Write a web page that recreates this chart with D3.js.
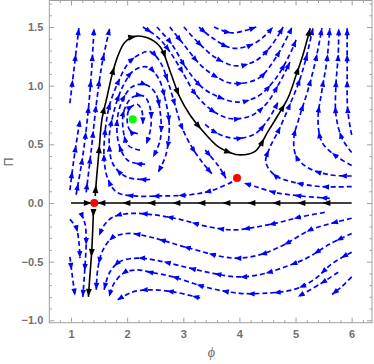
<!DOCTYPE html>
<meta charset="utf-8">
<style>
  body { margin: 0; background: #fff; }
  svg { display: block; }
  .tick text { font-family: "Liberation Sans", Arial, sans-serif; font-size: 11px; font-weight: bold; fill: #707070; }
  .tick line { stroke: #a0a0a0; }
</style>
<body>
<script src="https://d3js.org/d3.v7.min.js"></script>
<script>
  // ticks
  var xTicks = [1, 2, 3, 4, 5, 6];
  var xMinor = [0.8, 1.2, 1.4, 1.6, 1.8, 2.2, 2.4, 2.6, 2.8, 3.2, 3.4, 3.6, 3.8, 4.2, 4.4, 4.6, 4.8, 5.2, 5.4, 5.6, 5.8, 6.2];
  var yTicks = [-1.0, -0.5, 0.0, 0.5, 1.0, 1.5];
  var yMinor = [-0.9, -0.8, -0.7, -0.6, -0.4, -0.3, -0.2, -0.1, 0.1, 0.2, 0.3, 0.4, 0.6, 0.7, 0.8, 0.9,
                1.1, 1.2, 1.3, 1.4, 1.6, 1.7];

  // fixed points
  var saddles = [[1.414, 0], [3.957, 0.213]];
  var centers = [[2.099, 0.714]];

  // separatrices (black)
  var blackLines = [
    [[1.43,0.06],[1.46,0.24],[1.50,0.45],[1.55,0.71],[1.64,0.90],[1.73,1.09],[1.84,1.26],[1.96,1.37],[2.14,1.42],
     [2.35,1.41],[2.59,1.33],[2.76,1.13],[2.94,0.90],[3.12,0.75],[3.30,0.64],[3.62,0.48],[3.83,0.43],[4.01,0.41],
     [4.28,0.44],[4.51,0.61],[4.69,0.75],[4.87,0.90],[5.01,1.09],[5.13,1.26],[5.26,1.49]],
    [[1.40,-0.06],[1.37,-0.40],[1.33,-0.66],[1.31,-0.80]]
  ];
  var blackAxis = [
    [[6.0,0],[1.47,0]],
    [[1.0,0],[1.37,0]]
  ];

  // left column, flowing up
  var leftLines = [
    [[0.98,0.85],[1.05,1.13],[1.14,1.49]],
    [[0.98,0.11],[1.05,0.37],[1.16,0.71]],
    [[1.09,0.07],[1.20,0.37],[1.29,0.71],[1.36,1.09],[1.41,1.49]],
    [[1.27,0.09],[1.36,0.45],[1.45,0.84],[1.55,1.18],[1.69,1.49]]
  ];

  // around the centre and near the second saddle
  var orbitLines = [
    [[2.19,0.59],[2.05,0.62],[2.00,0.71],[2.05,0.81],[2.18,0.84],[2.26,0.79],[2.28,0.67]],
    [[2.23,0.45],[2.02,0.49],[1.93,0.62],[1.94,0.78],[2.09,0.90],[2.30,0.91],[2.41,0.81],[2.42,0.64],[2.34,0.50]],
    [[2.32,0.33],[2.02,0.36],[1.86,0.49],[1.82,0.69],[1.91,0.87],[2.09,0.99],[2.32,1.01],[2.50,0.94],[2.59,0.77],[2.59,0.54],[2.46,0.39]],
    [[2.41,0.20],[2.00,0.22],[1.75,0.33],[1.68,0.54],[1.77,0.79],[1.93,1.00],[2.12,1.13],[2.35,1.16],[2.55,1.07],[2.67,0.90],[2.75,0.66],[2.69,0.41],[2.55,0.26]],
    [[3.87,0.18],[3.53,0.11],[3.12,0.07],[2.59,0.06],[2.14,0.06],[1.82,0.09],[1.66,0.20],[1.59,0.37],[1.61,0.62],[1.69,0.84],
     [1.84,1.03],[2.02,1.19],[2.23,1.27],[2.41,1.29],[2.59,1.20],[2.73,1.03],[2.85,0.84],[2.98,0.64],[3.16,0.47],[3.35,0.34],[3.51,0.25]],
    [[3.39,0.45],[3.62,0.32],[3.76,0.21]],
    [[5.61,0.04],[5.08,0.06],[4.63,0.09],[4.28,0.14],[4.08,0.17]]
  ];

  // upper middle, flowing right
  var upperLines = [
    [[3.55,1.50],[3.87,1.45],[4.30,1.50]],
    [[3.28,1.50],[3.51,1.41],[3.87,1.32],[4.22,1.35],[4.44,1.42],[4.60,1.50]],
    [[3.01,1.50],[3.26,1.37],[3.57,1.24],[3.92,1.17],[4.28,1.21],[4.55,1.33],[4.78,1.50]],
    [[2.76,1.50],[3.01,1.35],[3.30,1.18],[3.57,1.08],[3.87,1.02],[4.33,1.06],[4.65,1.24],[4.94,1.50]],
    [[2.53,1.50],[2.80,1.35],[3.05,1.15],[3.35,0.98],[3.65,0.90],[3.97,0.86],[4.33,0.91],[4.63,1.05],[4.87,1.24],[5.01,1.39]],
    [[2.28,1.50],[2.55,1.41],[2.76,1.29],[2.98,1.12],[3.23,0.92],[3.51,0.79],[3.83,0.72],[4.19,0.74],[4.47,0.84],[4.72,1.03],[4.90,1.20]],
    [[3.39,0.67],[3.62,0.59],[3.94,0.55],[4.28,0.59],[4.51,0.71],[4.69,0.86]]
  ];

  // right side, coming in from the right and turning up
  var rightLines = [
    [[6.0,0.14],[5.44,0.14],[4.94,0.18],[4.62,0.24],[4.47,0.35],[4.54,0.47],[4.70,0.62],[4.90,0.84],[5.06,1.03],[5.18,1.22],[5.31,1.49]],
    [[6.0,0.23],[5.61,0.24],[5.22,0.30],[5.01,0.40],[4.97,0.55],[5.08,0.75],[5.22,0.96],[5.36,1.22],[5.47,1.49]],
    [[6.0,0.32],[5.72,0.40],[5.47,0.52],[5.40,0.71],[5.47,0.96],[5.56,1.22],[5.61,1.49]],
    [[6.0,0.43],[5.83,0.55],[5.72,0.75],[5.72,1.01],[5.76,1.26],[5.77,1.49]],
    [[6.0,0.58],[5.93,0.79],[5.92,1.13],[5.92,1.49]]
  ];

  // lower half, flowing left then down
  var lowerLines = [
    [[5.52,-0.08],[5.08,-0.12],[4.67,-0.17],[4.24,-0.21],[3.89,-0.23],[3.42,-0.20],[2.94,-0.14],[2.46,-0.10],[2.05,-0.09],[1.75,-0.12],[1.59,-0.19],[1.50,-0.28]],
    [[6.0,-0.13],[5.67,-0.17],[5.26,-0.23],[4.78,-0.36],[4.37,-0.44],[3.89,-0.47],[3.07,-0.38],[2.41,-0.29],[2.00,-0.26],[1.73,-0.30],[1.57,-0.40],[1.48,-0.55],[1.45,-0.74]],
    [[6.0,-0.26],[5.61,-0.35],[5.20,-0.47],[4.78,-0.55],[4.37,-0.61],[3.96,-0.63],[3.53,-0.60],[3.07,-0.55],[2.53,-0.49],[2.18,-0.47],[1.87,-0.50],[1.69,-0.59],[1.59,-0.74]],
    [[6.0,-0.42],[5.67,-0.51],[5.31,-0.66],[4.95,-0.74],[4.42,-0.77],[4.01,-0.77],[3.42,-0.72],[2.82,-0.63],[2.41,-0.59],[2.18,-0.57],[1.93,-0.60],[1.75,-0.70],[1.68,-0.80]],
    [[3.30,-0.81],[2.85,-0.76],[2.41,-0.74],[2.09,-0.76],[1.82,-0.83]],
    [[5.76,-0.59],[5.44,-0.69],[5.04,-0.80]],
    [[6.0,-0.63],[5.83,-0.71],[5.65,-0.78]],
    [[0.98,-0.14],[1.09,-0.21],[1.14,-0.33],[1.16,-0.47]],
    [[0.98,-0.46],[1.02,-0.61],[1.07,-0.79]],
    [[1.18,-0.09],[1.25,-0.18],[1.27,-0.32],[1.25,-0.53],[1.21,-0.80]]
  ];

  var width = 374, height = 364;
  var x = d3.scaleLinear().domain([0.613, 6.362]).range([49.3, 372]);
  var y = d3.scaleLinear().domain([-1.0205, 1.726]).range([322.7, 0.5]);

  var svg = d3.select("body").append("svg")
      .attr("width", width)
      .attr("height", height);

  svg.append("defs").append("clipPath").attr("id", "plotclip")
    .append("rect")
      .attr("x", x.range()[0]).attr("y", y.range()[1])
      .attr("width", x.range()[1] - x.range()[0])
      .attr("height", y.range()[0] - y.range()[1]);

  var line = d3.line()
      .x(function(d) { return x(d[0]); })
      .y(function(d) { return y(d[1]); })
      .curve(d3.curveCatmullRom.alpha(0.5));

  var plot = svg.append("g").attr("clip-path", "url(#plotclip)");

  // one streamline: the curve plus arrowheads every `spacing` px, last one at the end
  function drawStream(g, pts, color, w, dash, spacing, len, half) {
    var p = g.append("path")
        .attr("d", line(pts))
        .attr("fill", "none")
        .attr("stroke", color)
        .attr("stroke-width", w)
        .attr("stroke-dasharray", dash);
    var node = p.node(), L = node.getTotalLength();
    for (var s = L; s > 6; s -= spacing) {
      var a = node.getPointAtLength(s), b = node.getPointAtLength(Math.max(0, s - 2));
      var ang = Math.atan2(a.y - b.y, a.x - b.x) * 180 / Math.PI;
      g.append("path")
        .attr("d", "M0,0L" + (-len) + "," + (-half) + "L" + (-len) + "," + half + "Z")
        .attr("transform", "translate(" + a.x + "," + a.y + ") rotate(" + ang + ")")
        .attr("fill", color);
    }
  }

  var blue = "#0000ff";
  [leftLines, orbitLines, upperLines, rightLines, lowerLines].forEach(function(group) {
    group.forEach(function(pts) { drawStream(plot, pts, blue, 1.7, "5,3", 26, 7, 2.7); });
  });
  blackLines.forEach(function(pts) { drawStream(plot, pts, "#000", 1.6, null, 40, 8, 3); });
  blackAxis.forEach(function(pts) { drawStream(plot, pts, "#000", 1.6, null, 25, 8, 3); });

  plot.selectAll(".saddle")
      .data(saddles)
    .enter().append("circle")
      .attr("class", "saddle")
      .attr("cx", function(d) { return x(d[0]); })
      .attr("cy", function(d) { return y(d[1]); })
      .attr("r", 4)
      .attr("fill", "#ff0000");
  plot.selectAll(".center")
      .data(centers)
    .enter().append("circle")
      .attr("class", "center")
      .attr("cx", function(d) { return x(d[0]); })
      .attr("cy", function(d) { return y(d[1]); })
      .attr("r", 4)
      .attr("fill", "#00ff00");

  // frame and ticks
  var x0 = x.range()[0], x1 = x.range()[1], y0 = y.range()[0], y1 = y.range()[1];

  function frameAxis(axis, transform) {
    var g = svg.append("g").attr("transform", transform).call(axis);
    g.select(".domain").remove();
    return g;
  }
  frameAxis(d3.axisBottom(x).tickValues(xTicks).tickSize(-5).tickPadding(8).tickFormat(d3.format("d")), "translate(0," + y0 + ")");
  frameAxis(d3.axisBottom(x).tickValues(xMinor).tickSize(-2.5).tickFormat(""), "translate(0," + y0 + ")");
  frameAxis(d3.axisTop(x).tickValues(xTicks).tickSize(-5).tickFormat(""), "translate(0," + y1 + ")");
  frameAxis(d3.axisTop(x).tickValues(xMinor).tickSize(-2.5).tickFormat(""), "translate(0," + y1 + ")");
  frameAxis(d3.axisLeft(y).tickValues(yTicks).tickSize(-5).tickPadding(6).tickFormat(d3.format(".1f")), "translate(" + x0 + ",0)");
  frameAxis(d3.axisLeft(y).tickValues(yMinor).tickSize(-2.5).tickFormat(""), "translate(" + x0 + ",0)");
  frameAxis(d3.axisRight(y).tickValues(yTicks).tickSize(-5).tickFormat(""), "translate(" + x1 + ",0)");
  frameAxis(d3.axisRight(y).tickValues(yMinor).tickSize(-2.5).tickFormat(""), "translate(" + x1 + ",0)");

  svg.append("rect")
      .attr("x", x0).attr("y", y1)
      .attr("width", x1 - x0).attr("height", y0 - y1)
      .attr("fill", "none")
      .attr("stroke", "#a0a0a0")
      .attr("stroke-width", 1);

  svg.append("text")
      .attr("x", (x(1) + x(6)) / 2)
      .attr("y", 357)
      .attr("text-anchor", "middle")
      .style("font-family", "'Liberation Serif', serif")
      .style("font-style", "italic")
      .style("font-size", "14px")
      .style("fill", "#666")
      .text("ϕ");

  svg.append("text")
      .attr("transform", "translate(13," + y(0.35) + ") rotate(-90)")
      .attr("text-anchor", "middle")
      .style("font-family", "'Liberation Sans', Arial, sans-serif")
      .style("font-size", "12px")
      .style("fill", "#666")
      .text("Π");
</script>
</body>
